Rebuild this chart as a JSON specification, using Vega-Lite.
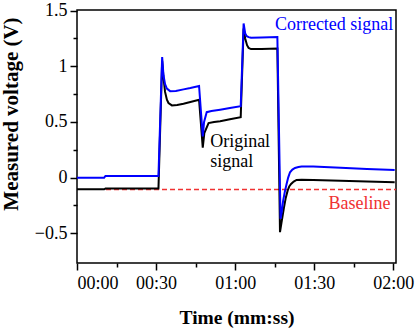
{
  "$schema": "https://vega.github.io/schema/vega-lite/v6.json",
  "width": 319,
  "height": 253,
  "autosize": "none",
  "padding": {"left": 77, "top": 10, "right": 19, "bottom": 65},
  "background": "white",
  "config": {
    "view": {"stroke": "black", "strokeWidth": 1.5},
    "axis": {"grid": false, "domain": false, "tickColor": "black", "tickWidth": 1.5, "labelColor": "black", "titleColor": "black", "labelFont": "Times", "titleFont": "Times"}
  },
  "datasets": {
    "signals": [
      {"t": 0, "v": -0.105, "series": "Original"},
      {"t": 10.3, "v": -0.105, "series": "Original"},
      {"t": 10.8, "v": -0.098, "series": "Original"},
      {"t": 30.9, "v": -0.098, "series": "Original"},
      {"t": 32.3, "v": 1.05, "series": "Original"},
      {"t": 32.8, "v": 0.9, "series": "Original"},
      {"t": 33.4, "v": 0.77, "series": "Original"},
      {"t": 34.1, "v": 0.7, "series": "Original"},
      {"t": 34.7, "v": 0.67, "series": "Original"},
      {"t": 36, "v": 0.649, "series": "Original"},
      {"t": 38, "v": 0.652, "series": "Original"},
      {"t": 40.4, "v": 0.664, "series": "Original"},
      {"t": 43, "v": 0.68, "series": "Original"},
      {"t": 46.3, "v": 0.7, "series": "Original"},
      {"t": 47.7, "v": 0.27, "series": "Original"},
      {"t": 48.3, "v": 0.4, "series": "Original"},
      {"t": 49.9, "v": 0.49, "series": "Original"},
      {"t": 52, "v": 0.5, "series": "Original"},
      {"t": 54.3, "v": 0.507, "series": "Original"},
      {"t": 58, "v": 0.525, "series": "Original"},
      {"t": 62.1, "v": 0.543, "series": "Original"},
      {"t": 63.2, "v": 1.34, "series": "Original"},
      {"t": 63.8, "v": 1.25, "series": "Original"},
      {"t": 64.5, "v": 1.19, "series": "Original"},
      {"t": 65.1, "v": 1.165, "series": "Original"},
      {"t": 66, "v": 1.155, "series": "Original"},
      {"t": 70, "v": 1.155, "series": "Original"},
      {"t": 76.0, "v": 1.16, "series": "Original"},
      {"t": 77.0, "v": -0.49, "series": "Original"},
      {"t": 77.6, "v": -0.4, "series": "Original"},
      {"t": 78.5, "v": -0.27, "series": "Original"},
      {"t": 79.2, "v": -0.18, "series": "Original"},
      {"t": 79.9, "v": -0.117, "series": "Original"},
      {"t": 80.5, "v": -0.08, "series": "Original"},
      {"t": 81.2, "v": -0.057, "series": "Original"},
      {"t": 82.2, "v": -0.035, "series": "Original"},
      {"t": 83.3, "v": -0.021, "series": "Original"},
      {"t": 85.2, "v": -0.018, "series": "Original"},
      {"t": 89.6, "v": -0.021, "series": "Original"},
      {"t": 100, "v": -0.028, "series": "Original"},
      {"t": 110, "v": -0.035, "series": "Original"},
      {"t": 120.5, "v": -0.042, "series": "Original"},
      {"t": 0, "v": 0.0, "series": "Corrected"},
      {"t": 10.3, "v": 0.0, "series": "Corrected"},
      {"t": 10.8, "v": 0.015, "series": "Corrected"},
      {"t": 30.9, "v": 0.015, "series": "Corrected"},
      {"t": 32.3, "v": 1.084, "series": "Corrected"},
      {"t": 32.8, "v": 0.92, "series": "Corrected"},
      {"t": 33.4, "v": 0.84, "series": "Corrected"},
      {"t": 34.1, "v": 0.8, "series": "Corrected"},
      {"t": 35.3, "v": 0.777, "series": "Corrected"},
      {"t": 37.5, "v": 0.778, "series": "Corrected"},
      {"t": 40.4, "v": 0.793, "series": "Corrected"},
      {"t": 43, "v": 0.805, "series": "Corrected"},
      {"t": 46.3, "v": 0.823, "series": "Corrected"},
      {"t": 47.7, "v": 0.37, "series": "Corrected"},
      {"t": 48.2, "v": 0.5, "series": "Corrected"},
      {"t": 49.2, "v": 0.588, "series": "Corrected"},
      {"t": 51, "v": 0.598, "series": "Corrected"},
      {"t": 54.3, "v": 0.61, "series": "Corrected"},
      {"t": 58, "v": 0.625, "series": "Corrected"},
      {"t": 62.1, "v": 0.642, "series": "Corrected"},
      {"t": 63.2, "v": 1.385, "series": "Corrected"},
      {"t": 63.8, "v": 1.295, "series": "Corrected"},
      {"t": 64.4, "v": 1.27, "series": "Corrected"},
      {"t": 65.1, "v": 1.262, "series": "Corrected"},
      {"t": 66, "v": 1.256, "series": "Corrected"},
      {"t": 70, "v": 1.258, "series": "Corrected"},
      {"t": 76.0, "v": 1.264, "series": "Corrected"},
      {"t": 77.2, "v": -0.37, "series": "Corrected"},
      {"t": 77.7, "v": -0.3, "series": "Corrected"},
      {"t": 78.2, "v": -0.207, "series": "Corrected"},
      {"t": 78.8, "v": -0.13, "series": "Corrected"},
      {"t": 79.5, "v": -0.057, "series": "Corrected"},
      {"t": 80.1, "v": 0.0, "series": "Corrected"},
      {"t": 80.8, "v": 0.048, "series": "Corrected"},
      {"t": 81.7, "v": 0.072, "series": "Corrected"},
      {"t": 82.7, "v": 0.087, "series": "Corrected"},
      {"t": 84, "v": 0.095, "series": "Corrected"},
      {"t": 85.2, "v": 0.099, "series": "Corrected"},
      {"t": 89.6, "v": 0.099, "series": "Corrected"},
      {"t": 100, "v": 0.088, "series": "Corrected"},
      {"t": 110, "v": 0.078, "series": "Corrected"},
      {"t": 120.5, "v": 0.069, "series": "Corrected"},
      {"t": 11, "v": -0.106, "series": "Baseline"},
      {"t": 121, "v": -0.106, "series": "Baseline"}
    ],
    "labels": [
      {"t": 120, "v": 1.324, "label": "Corrected signal", "series": "Corrected"},
      {"t": 50.5, "v": 0.279, "label": "Original", "series": "Original"},
      {"t": 50.5, "v": 0.099, "label": "signal", "series": "Original"},
      {"t": 118.9, "v": -0.282, "label": "Baseline", "series": "Baseline"}
    ]
  },
  "resolve": {"axis": {"x": "independent", "y": "independent"}},
  "layer": [
    {
      "data": {"name": "signals"},
      "transform": [{"filter": "datum.series === 'Baseline'"}],
      "mark": {"type": "line", "color": "#f03232", "strokeWidth": 1.5, "strokeDash": [5, 3]},
      "encoding": {
        "x": {"field": "t", "type": "quantitative", "scale": {"domain": [0, 121], "nice": false, "zero": false},
          "axis": {"orient": "bottom", "values": [15, 45, 75, 105], "labels": false, "tickSize": 4, "title": null}},
        "y": {"field": "v", "type": "quantitative", "scale": {"domain": [-0.767, 1.506], "nice": false, "zero": false},
          "axis": {"orient": "left", "values": [-0.25, 0.25, 0.75, 1.25], "labels": false, "tickSize": 4, "title": null}}
      }
    },
    {
      "data": {"name": "signals"},
      "transform": [{"filter": "datum.series === 'Original'"}],
      "mark": {"type": "line", "color": "black", "strokeWidth": 2},
      "encoding": {
        "x": {"field": "t", "type": "quantitative",
          "axis": {"orient": "bottom", "values": [0, 30, 60, 90, 120], "tickSize": 7, "labelFontSize": 18, "labelPadding": 4,
            "labelExpr": "(floor(datum.value/60) < 10 ? '0' : '') + floor(datum.value/60) + ':' + (datum.value % 60 < 10 ? '0' : '') + (datum.value % 60)",
            "title": "Time (mm:ss)", "titleFontSize": 19.5, "titleFontWeight": "bold", "titleBaseline": "alphabetic", "titleY": 60}},
        "y": {"field": "v", "type": "quantitative",
          "axis": {"orient": "left", "values": [-0.5, 0, 0.5, 1, 1.5], "format": "~g", "tickSize": 7, "labelFontSize": 18, "labelPadding": 3,
            "title": "Measured voltage (V)", "titleFontSize": 21, "titleFontWeight": "bold", "titleAngle": -90, "titleAlign": "center", "titleBaseline": "alphabetic", "titleX": -60, "titleY": 103.5}}
      }
    },
    {
      "data": {"name": "signals"},
      "transform": [{"filter": "datum.series === 'Corrected'"}],
      "mark": {"type": "line", "color": "#0000ff", "strokeWidth": 2},
      "encoding": {
        "x": {"field": "t", "type": "quantitative", "axis": null},
        "y": {"field": "v", "type": "quantitative", "axis": null}
      }
    },
    {
      "data": {"name": "labels"},
      "transform": [{"filter": "datum.series !== 'Original'"}],
      "mark": {"type": "text", "align": "right", "baseline": "alphabetic", "font": "Times", "fontSize": 18},
      "encoding": {
        "x": {"field": "t", "type": "quantitative", "axis": null},
        "y": {"field": "v", "type": "quantitative", "axis": null},
        "text": {"field": "label", "type": "nominal"},
        "color": {"field": "series", "type": "nominal", "scale": {"domain": ["Original", "Corrected", "Baseline"], "range": ["black", "#0000ff", "#f03232"]}, "legend": null}
      }
    },
    {
      "data": {"name": "labels"},
      "transform": [{"filter": "datum.series === 'Original'"}],
      "mark": {"type": "text", "align": "left", "baseline": "alphabetic", "font": "Times", "fontSize": 18, "color": "black"},
      "encoding": {
        "x": {"field": "t", "type": "quantitative", "axis": null},
        "y": {"field": "v", "type": "quantitative", "axis": null},
        "text": {"field": "label", "type": "nominal"}
      }
    }
  ]
}
